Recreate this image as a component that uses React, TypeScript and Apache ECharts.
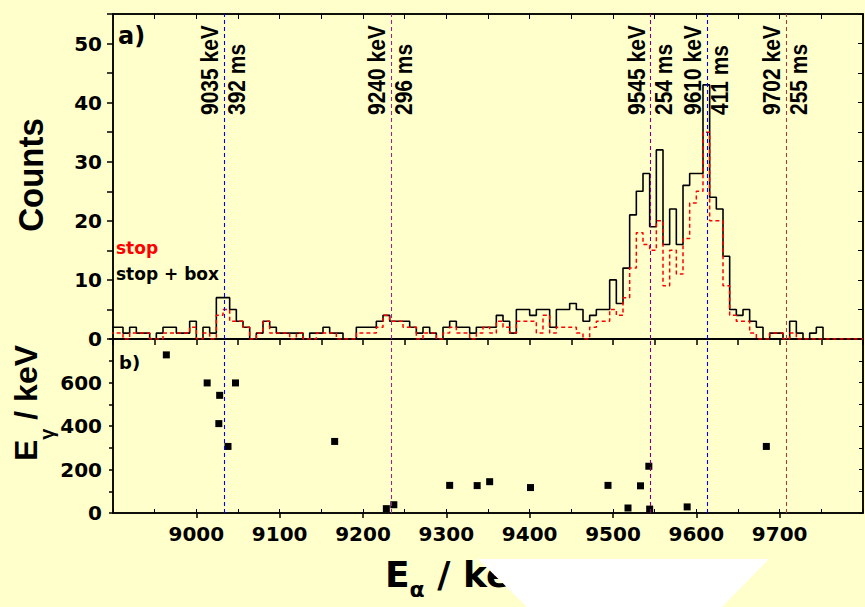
import React, { useEffect, useRef } from 'react';
import * as echarts from 'echarts';

// ---------- data ----------
const ENERGY_MIN = 8900;
const ENERGY_MAX = 9800;
const BIN_START = 8896; // left edge of the first (partially visible) 8 keV bin
const BIN_WIDTH = 8;

// "stop + box" counts per 8 keV bin (8896, 8904, ... 9792)
const stopBoxCounts = [
  2, 2, 1, 2, 1, 1, 0, 1,
  2, 2, 1, 1, 3, 0, 2, 1,
  7, 7, 5, 3, 2, 0, 1, 3,
  2, 1, 1, 1, 1, 0, 1, 1,
  2, 1, 1, 0, 0, 2, 2, 2,
  3, 4, 3, 3, 3, 2, 1, 2,
  1, 0, 2, 3, 2, 2, 1, 2,
  2, 2, 4, 3, 1, 5, 5, 4,
  5, 5, 2, 5, 5, 6, 5, 3,
  4, 5, 5, 10, 6, 12, 21, 25,
  28, 19, 32, 16, 22, 16, 26, 28,
  28, 43, 24, 22, 14, 5, 4, 5,
  3, 2, 0, 1, 1, 0, 3, 1,
  0, 1, 2, 0, 0, 0, 0, 0,
  0,
];

// "stop" counts per 8 keV bin
const stopCounts = [
  1, 1, 0, 1, 1, 1, 0, 0,
  1, 1, 1, 1, 2, 0, 1, 0,
  4, 5, 3, 3, 2, 0, 1, 3,
  1, 1, 1, 0, 1, 0, 0, 1,
  1, 1, 0, 0, 0, 1, 1, 1,
  2, 4, 3, 3, 2, 2, 0, 1,
  1, 0, 1, 2, 1, 1, 0, 1,
  2, 1, 3, 2, 1, 3, 3, 3,
  1, 4, 1, 2, 2, 2, 1, 0,
  2, 3, 3, 5, 4, 7, 12, 18,
  16, 15, 20, 9, 15, 11, 17, 23,
  25, 35, 20, 20, 9, 4, 3, 3,
  1, 0, 0, 1, 1, 0, 1, 0,
  0, 0, 0, 0, 0, 0, 0, 0,
  0,
];

// panel b: coincident gamma energies
const coincAlphaEnergy = [8964, 9013, 9028, 9027, 9038, 9047, 9166, 9228, 9237, 9304, 9337, 9352, 9401, 9494, 9518, 9533, 9543, 9544, 9589, 9684];
const coincGammaEnergy = [727, 598, 541, 411, 306, 598, 329, 20, 38, 127, 126, 144, 117, 127, 23, 125, 215, 18, 28, 306];

// marked alpha lines
const lineEnergies = [9033, 9234, 9545, 9613, 9708];
const lineEnergyLabels = ['9035 keV', '9240 keV', '9545 keV', '9610 keV', '9702 keV'];
const lineHalfLifeLabels = ['392 ms', '296 ms', '254 ms', '411 ms', '255 ms'];
const lineColors = ['#0000ff', '#8b2a8b', '#800080', '#0000ff', '#9a4040'];

// ---------- helpers ----------
const histData = (counts: number[]) => {
  const d: [number, number][] = counts.map((c, i) => [BIN_START + i * BIN_WIDTH, c]);
  d.push([BIN_START + counts.length * BIN_WIDTH, counts[counts.length - 1]]);
  return d;
};

const BLACK = '#000';
const TICK_FONT = { fontFamily: 'DejaVu Sans', fontWeight: 'bold' as const, fontSize: 20, color: BLACK };
const axisLine = { show: true, onZero: false, lineStyle: { color: BLACK, width: 1.5 } };

export default function App() {
  const ref = useRef<HTMLDivElement>(null);

  useEffect(() => {
    if (!ref.current) return;
    const chart = echarts.init(ref.current, null, { renderer: 'svg' });

    const markLines = () => ({
      silent: true,
      symbol: ['none', 'none'],
      label: { show: false },
      data: lineEnergies.map((e, i) => ({
        xAxis: e,
        lineStyle: { color: lineColors[i], type: [4, 3], width: 1.1, opacity: 1 },
      })),
    });

    const option: any = {
      animation: false,
      backgroundColor: '#FFFFCC',
      grid: [
        { left: 113, top: 14, width: 750, height: 325, show: true, borderColor: BLACK, borderWidth: 1.5, backgroundColor: 'transparent' },
        { left: 113, top: 339, width: 750, height: 174, show: true, borderColor: BLACK, borderWidth: 1.5, backgroundColor: 'transparent' },
      ],
      legend: {
        orient: 'vertical',
        left: 111,
        top: 239,
        padding: 0,
        itemWidth: 0,
        itemHeight: 17,
        itemGap: 9,
        icon: 'none',
        selectedMode: false,
        textStyle: { fontFamily: 'DejaVu Sans', fontWeight: 'bold', fontSize: 17, color: BLACK },
        data: [
          { name: 'stop', textStyle: { color: '#ff0000' } },
          { name: 'stop + box', textStyle: { color: BLACK } },
        ],
      },
      xAxis: [
        {
          gridIndex: 0, type: 'value', position: 'bottom', min: ENERGY_MIN, max: ENERGY_MAX, interval: 50,
          axisLine, axisTick: { show: true, inside: false, length: 6, lineStyle: { color: BLACK, width: 1.5 } },
          axisLabel: { show: false }, splitLine: { show: false },
        },
        {
          gridIndex: 0, type: 'value', position: 'top', min: ENERGY_MIN, max: ENERGY_MAX, interval: 50,
          axisLine, axisTick: { show: true, inside: true, length: 5, lineStyle: { color: BLACK, width: 1 } },
          axisLabel: { show: false }, splitLine: { show: false },
        },
        {
          gridIndex: 1, type: 'value', position: 'bottom', min: ENERGY_MIN, max: ENERGY_MAX, interval: 100,
          axisLine, axisTick: { show: true, inside: false, length: 5, lineStyle: { color: BLACK, width: 1.5 } },
          axisLabel: { show: true, margin: 11, showMinLabel: false, showMaxLabel: false, ...TICK_FONT, formatter: (v: number) => String(v) },
          splitLine: { show: false },
        },
        {
          gridIndex: 1, type: 'value', position: 'bottom', min: ENERGY_MIN, max: ENERGY_MAX, interval: 50,
          axisLine: { show: false }, axisTick: { show: true, inside: true, length: 4, lineStyle: { color: BLACK, width: 1 } },
          axisLabel: { show: false }, splitLine: { show: false },
        },
      ],
      yAxis: [
        {
          gridIndex: 0, type: 'value', position: 'left', min: 0, max: 55, interval: 5,
          axisLine, axisTick: { show: true, inside: false, length: 6, lineStyle: { color: BLACK, width: 1.5 } },
          axisLabel: { show: true, margin: 11, ...TICK_FONT, formatter: (v: number) => (v % 10 === 0 && v <= 50 ? String(v) : '') },
          splitLine: { show: false },
        },
        {
          gridIndex: 0, type: 'value', position: 'right', min: 0, max: 55, interval: 5,
          axisLine, axisTick: { show: true, inside: true, length: 5, lineStyle: { color: BLACK, width: 1 } },
          axisLabel: { show: false }, splitLine: { show: false },
        },
        {
          gridIndex: 1, type: 'value', position: 'left', min: 0, max: 800, interval: 100,
          axisLine, axisTick: { show: true, inside: false, length: 4, lineStyle: { color: BLACK, width: 1.5 } },
          axisLabel: { show: true, margin: 11, ...TICK_FONT, formatter: (v: number) => (v % 200 === 0 && v < 800 ? String(v) : '') },
          splitLine: { show: false },
        },
        {
          gridIndex: 1, type: 'value', position: 'right', min: 0, max: 800, interval: 100,
          axisLine, axisTick: { show: true, inside: true, length: 4, lineStyle: { color: BLACK, width: 1 } },
          axisLabel: { show: false }, splitLine: { show: false },
        },
      ],
      series: [
        {
          name: 'stop + box', type: 'line', xAxisIndex: 0, yAxisIndex: 0, step: 'end',
          showSymbol: false, symbol: 'none', clip: true,
          lineStyle: { color: BLACK, width: 1.6 }, itemStyle: { color: BLACK },
          data: histData(stopBoxCounts),
          markLine: markLines(),
          z: 2,
        },
        {
          name: 'stop', type: 'line', xAxisIndex: 0, yAxisIndex: 0, step: 'end',
          showSymbol: false, symbol: 'none', clip: true,
          lineStyle: { color: '#ff0000', width: 1.5, type: [4, 3] }, itemStyle: { color: '#ff0000' },
          data: histData(stopCounts),
          z: 3,
        },
        {
          name: 'coincidences', type: 'scatter', xAxisIndex: 2, yAxisIndex: 2,
          symbol: 'rect', symbolSize: 7, itemStyle: { color: BLACK, opacity: 1 },
          data: coincAlphaEnergy.map((e, i) => [e, coincGammaEnergy[i]]),
          markLine: markLines(),
        },
      ],
    };

    chart.setOption(option);

    const px = (v: number) => chart.convertToPixel({ xAxisIndex: 0 }, v) as number;
    const rotFont = { fontFamily: 'Liberation Sans', fontWeight: 'bold', fill: BLACK };

    const graphic: any[] = [];
    lineEnergies.forEach((e, i) => {
      const x = px(e);
      graphic.push({
        type: 'text', x: x - 14, y: 115, rotation: Math.PI / 2, scaleY: 1.15, z: 50,
        style: { text: lineEnergyLabels[i], fontSize: 21, ...rotFont, align: 'left', verticalAlign: 'middle' },
      });
      graphic.push({
        type: 'text', x: x + 13, y: 115, rotation: Math.PI / 2, scaleY: 1.15, z: 50,
        style: { text: lineHalfLifeLabels[i], fontSize: 21, ...rotFont, align: 'left', verticalAlign: 'middle' },
      });
    });

    graphic.push(
      {
        type: 'text', x: 118, y: 24, z: 50,
        style: { text: 'a)', fontSize: 24, fontFamily: 'DejaVu Sans', fontWeight: 'bold', fill: BLACK, align: 'left', verticalAlign: 'top' },
      },
      {
        type: 'text', x: 119, y: 353, z: 50,
        style: { text: 'b)', fontSize: 18, fontFamily: 'DejaVu Sans', fontWeight: 'bold', fill: BLACK, align: 'left', verticalAlign: 'top' },
      },
      {
        type: 'text', x: 30.5, y: 175, rotation: Math.PI / 2, scaleY: 1.05, z: 50,
        style: { text: 'Counts', fontSize: 33, ...rotFont, align: 'center', verticalAlign: 'middle' },
      },
      {
        type: 'text', x: 25.5, y: 461, rotation: Math.PI / 2, z: 50,
        style: {
          text: '{e|E}{s|γ}{e| / keV}', fontSize: 32, ...rotFont, align: 'left', verticalAlign: 'middle',
          rich: {
            e: { fontSize: 32, fontFamily: 'Liberation Sans', fontWeight: 'bold', fill: BLACK, lineHeight: 62, verticalAlign: 'middle' },
            s: { fontSize: 20, fontFamily: 'Liberation Sans', fontWeight: 'bold', fill: BLACK, lineHeight: 20, verticalAlign: 'bottom' },
          },
        },
      },
      {
        type: 'text', x: 385, y: 574, z: 50,
        style: {
          text: '{e|E}{s|α}{e| / keV}', fontSize: 36, fontFamily: 'DejaVu Sans', fontWeight: 'bold', fill: BLACK,
          align: 'left', verticalAlign: 'middle',
          rich: {
            e: { fontSize: 36, fontFamily: 'DejaVu Sans', fontWeight: 'bold', fill: BLACK, lineHeight: 52, verticalAlign: 'middle' },
            s: { fontSize: 22, fontFamily: 'DejaVu Sans', fontWeight: 'bold', fill: BLACK, lineHeight: 22, verticalAlign: 'bottom' },
          },
        },
      },
      {
        type: 'polygon', z: 100,
        shape: { points: [[478, 559], [769, 559], [722, 607], [527, 607]] },
        style: { fill: '#ffffff', stroke: 'none' },
      },
    );

    chart.setOption({ graphic });

    return () => chart.dispose();
  }, []);

  return (
    <div
      ref={ref}
      style={{ position: 'absolute', left: 0, top: 0, width: 865, height: 607 }}
    />
  );
}
